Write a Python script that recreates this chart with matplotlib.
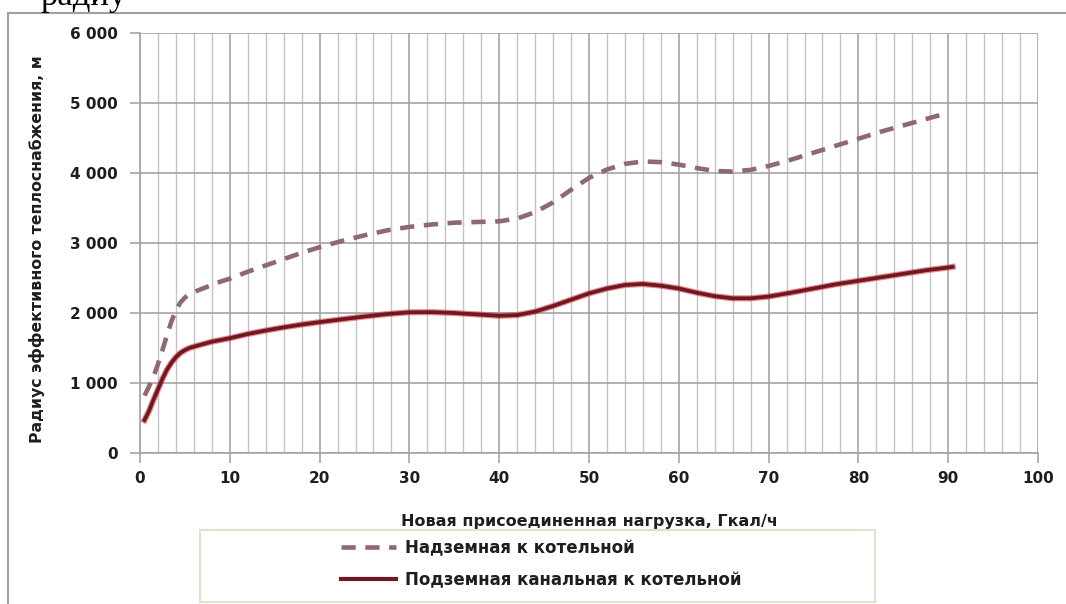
import matplotlib
matplotlib.use('Agg')
import matplotlib.pyplot as plt
from matplotlib.lines import Line2D
from matplotlib.patches import Rectangle
from matplotlib.ticker import MultipleLocator, FuncFormatter

# values
load_x = [0.5, 1, 1.5, 2, 2.5, 3, 3.5, 4, 4.5, 5, 5.5, 6, 7, 8, 9, 10, 12, 14, 16, 18, 20,
          22.5, 25, 27.5, 30, 32.5, 35, 37.5, 40, 42, 44, 46, 48, 50, 52, 54, 56, 58, 60,
          62, 64, 66, 68, 70, 72.5, 75, 77.5, 80, 82.5, 85, 87.5, 90]
overground = [820, 950, 1090, 1270, 1470, 1680, 1880, 2040, 2150, 2220, 2270, 2300, 2350,
              2400, 2450, 2490, 2590, 2680, 2770, 2860, 2940, 3030, 3110, 3180, 3230, 3265,
              3290, 3300, 3310, 3350, 3440, 3580, 3760, 3930, 4050, 4130, 4165, 4155, 4120,
              4070, 4030, 4020, 4045, 4100, 4190, 4290, 4390, 4490, 4590, 4680, 4770, 4860]
underground = [470, 600, 760, 910, 1060, 1190, 1290, 1370, 1430, 1470, 1500, 1520, 1555,
               1590, 1615, 1640, 1700, 1750, 1795, 1835, 1870, 1910, 1950, 1985, 2010, 2012,
               2000, 1980, 1960, 1970, 2020, 2100, 2190, 2280, 2350, 2400, 2415, 2390, 2350,
               2290, 2240, 2210, 2210, 2235, 2290, 2350, 2410, 2460, 2510, 2560, 2610, 2650]
under_end = (90.5, 2660)

x_under = load_x + [under_end[0]]
y_under = underground + [under_end[1]]

label_over = "Надземная к котельной"
label_under = "Подземная канальная к котельной"
xlabel = "Новая присоединенная нагрузка, Гкал/ч"
ylabel = "Радиус эффективного теплоснабжения, м"

W, H = 1066, 604
fig = plt.figure(figsize=(W / 100, H / 100), dpi=100)

# axes placed in pixel terms of the reference
x0, x1, yb, yt = 140, 1038, 453, 33
ax = fig.add_axes([x0 / W, 1 - yb / H, (x1 - x0) / W, (yb - yt) / H])

ax.set_xlim(0, 100)
ax.set_ylim(0, 6000)
ax.xaxis.set_major_locator(MultipleLocator(10))
ax.xaxis.set_minor_locator(MultipleLocator(2))
ax.yaxis.set_major_locator(MultipleLocator(1000))
ax.yaxis.set_major_formatter(FuncFormatter(lambda v, p: f"{int(v):,}".replace(",", " ")))

ax.grid(which='major', axis='x', color='#a4a4a4', lw=1.2)
ax.grid(which='minor', axis='x', color='#c4c4c4', lw=1.0)
ax.grid(which='major', axis='y', color='#a4a4a4', lw=1.2)
ax.set_axisbelow(True)

for s in ['top', 'right']:
    ax.spines[s].set_visible(False)
for s in ['left', 'bottom']:
    ax.spines[s].set_color('#a4a4a4')
    ax.spines[s].set_linewidth(1.2)

ax.tick_params(axis='both', which='major', color='#a4a4a4', length=7, width=1.2,
               labelsize=11, labelcolor='#1e1e1e')
ax.tick_params(axis='x', which='minor', length=0)
ax.tick_params(axis='y', pad=9)
ax.tick_params(axis='x', pad=6)
for lab in ax.get_xticklabels() + ax.get_yticklabels():
    lab.set_fontweight('bold')

dash_color = '#8e6872'
dash_style = (3.1, 2.1)
ax.plot(load_x, overground, color=dash_color, lw=3.3, dashes=dash_style)
ax.plot(x_under, y_under, color='#e03848', lw=4.4, alpha=0.6)
ax.plot(x_under, y_under, color='#6e1820', lw=2.7)

ax.set_xlabel(xlabel, fontsize=11.5, fontweight='bold', color='#1e1e1e', labelpad=20)
ax.set_ylabel(ylabel, fontsize=11.3, fontweight='bold', color='#1e1e1e')
ax.yaxis.set_label_coords(-95 / (x1 - x0), 0.486)

# frame of the chart area
fig.add_artist(Line2D([8 / W, 8 / W], [0, 1 - 13 / H], color='#a0a0a0', lw=1.5))
fig.add_artist(Line2D([8 / W, 1], [1 - 13 / H, 1 - 13 / H], color='#a0a0a0', lw=1.5))

# leftover text of the page above the chart
fig.text(40 / W, 1 - 5 / H, "радиу", fontsize=25, family='Liberation Serif',
         va='baseline', ha='left', color='black')

# legend box
fig.add_artist(Rectangle((200 / W, 2 / H), 675 / W, 72 / H, transform=fig.transFigure,
                         facecolor='white', edgecolor='#e2e2cc', lw=1.5))
handles = [Line2D([0], [0], color=dash_color, lw=3.3, dashes=dash_style),
           Line2D([0], [0], color='#6e1820', lw=3.0)]
fig.legend(handles, [label_over, label_under], loc='center',
           bbox_to_anchor=(541 / W, 1 - 564 / H), frameon=False,
           prop={'size': 12, 'weight': 'bold'}, handlelength=3.3,
           handletextpad=0.55, labelspacing=0.85, labelcolor='#1e1e1e')

fig.savefig('out.png', dpi=100)
